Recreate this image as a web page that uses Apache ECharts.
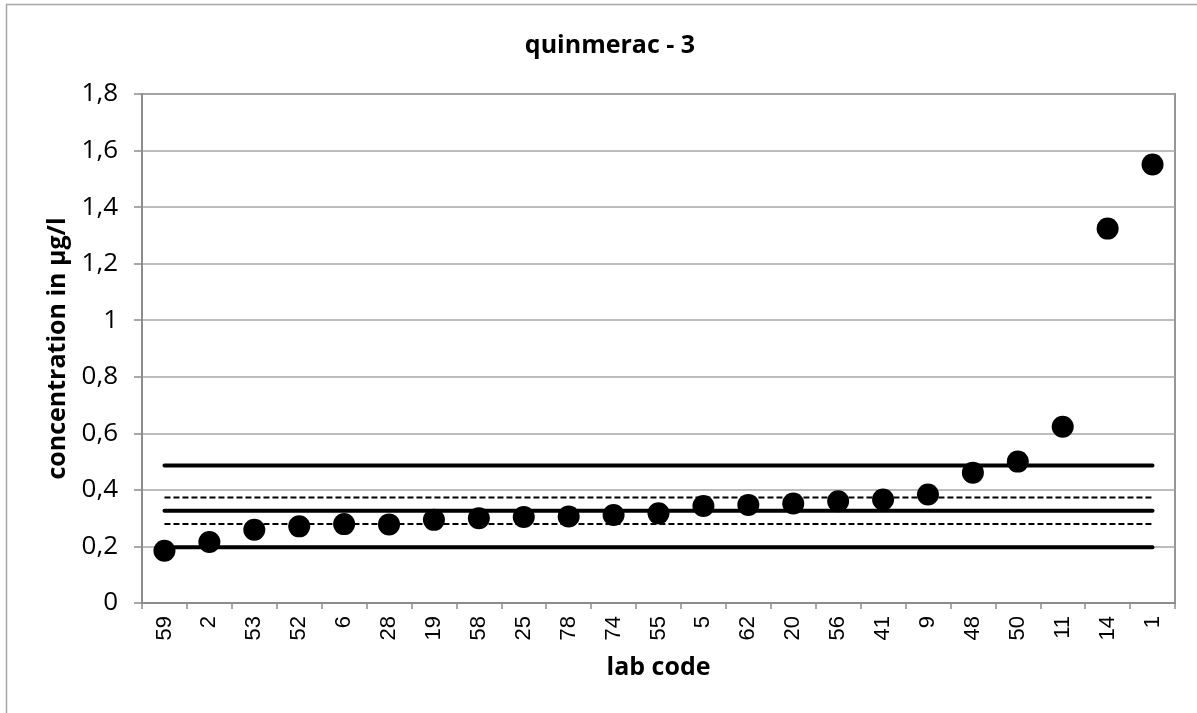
<!DOCTYPE html>
<html>
<head>
<meta charset="utf-8">
<script src="https://cdn.jsdelivr.net/npm/echarts@6/dist/echarts.min.js"></script>
<style>
  html, body { margin: 0; padding: 0; background: #fff; }
  #chart { width: 1197px; height: 713px; }
</style>
</head>
<body>
<div id="chart"></div>
<script>
const labCodes = ['59', '2', '53', '52', '6', '28', '19', '58', '25', '78', '74', '55', '5', '62', '20', '56', '41', '9', '48', '50', '11', '14', '1'];
const concentrations = [0.185, 0.216, 0.259, 0.271, 0.279, 0.278, 0.294, 0.300, 0.304, 0.306, 0.311, 0.317, 0.343, 0.347, 0.352, 0.360, 0.366, 0.384, 0.461, 0.500, 0.623, 1.324, 1.551];
const yTicks = [0, 0.2, 0.4, 0.6, 0.8, 1, 1.2, 1.4, 1.6, 1.8];

// reference levels (assigned value, tolerance limits, uncertainty band)
const assignedValue = 0.326;
const upperLimit = 0.486;
const lowerLimit = 0.197;
const upperBand = 0.3735;
const lowerBand = 0.279;

const levelLine = (value, dashed) => ({
  type: 'line',
  data: labCodes.map(() => value),
  symbol: 'none',
  silent: true,
  z: 1,
  lineStyle: {
    color: '#000',
    width: dashed ? 2 : 4,
    type: dashed ? [6, 3] : 'solid',
    cap: dashed ? 'butt' : 'round',
  },
});

const chartDom = document.getElementById('chart');
const myChart = echarts.init(chartDom);

const option = {
  animation: false,
  backgroundColor: '#fff',
  title: {
    text: 'quinmerac - 3',
    left: 605,
    top: 28,
    textAlign: 'center',
    textStyle: {
      fontFamily: 'Open Sans',
      fontSize: 25,
      fontWeight: 'bold',
      color: '#000',
    },
  },
  graphic: [
    {
      type: 'rect',
      shape: { x: 6.5, y: 4.5, width: 1300, height: 800 },
      style: { fill: 'none', stroke: '#a6a6a6', lineWidth: 1.5 },
      silent: true,
    },
  ],
  grid: {
    left: 142,
    right: 22,
    top: 94,
    bottom: 110,
    show: true,
    borderColor: '#969696',
    borderWidth: 2,
  },
  xAxis: {
    type: 'category',
    data: labCodes,
    boundaryGap: true,
    name: 'lab code',
    nameLocation: 'middle',
    nameGap: 52,
    nameTextStyle: {
      fontFamily: 'Open Sans',
      fontSize: 25,
      fontWeight: 'bold',
      color: '#000',
    },
    axisLine: { show: true, lineStyle: { color: '#8c8c8c', width: 2 } },
    axisTick: { show: true, length: 6, lineStyle: { color: '#8c8c8c', width: 1.5 } },
    axisLabel: {
      rotate: 90,
      margin: 13,
      interval: 0,
      fontFamily: 'Liberation Sans',
      fontSize: 22,
      color: '#000',
    },
    splitLine: { show: false },
  },
  yAxis: {
    type: 'value',
    min: 0,
    max: 1.8,
    interval: 0.2,
    name: 'concentration in µg/l',
    nameLocation: 'middle',
    nameRotate: 90,
    nameGap: 69,
    nameTextStyle: {
      fontFamily: 'Open Sans',
      fontSize: 25,
      fontWeight: 'bold',
      color: '#000',
    },
    axisLine: { show: true, lineStyle: { color: '#8c8c8c', width: 2 } },
    axisTick: { show: true, length: 8, lineStyle: { color: '#8c8c8c', width: 1.5 } },
    axisLabel: {
      margin: 24,
      fontFamily: 'Open Sans',
      fontSize: 26,
      color: '#000',
      formatter: (value) => {
        const tick = yTicks.find((t) => Math.abs(t - value) < 1e-9);
        return String(tick !== undefined ? tick : value).replace('.', ',');
      },
    },
    splitLine: { show: true, lineStyle: { color: '#a6a6a6', width: 1.5 } },
  },
  series: [
    levelLine(upperLimit, false),
    levelLine(upperBand, true),
    levelLine(assignedValue, false),
    levelLine(lowerBand, true),
    levelLine(lowerLimit, false),
    {
      type: 'scatter',
      data: concentrations,
      symbol: 'circle',
      symbolSize: 22,
      z: 5,
      itemStyle: { color: '#000', opacity: 1 },
    },
  ],
};

myChart.setOption(option);
</script>
</body>
</html>
